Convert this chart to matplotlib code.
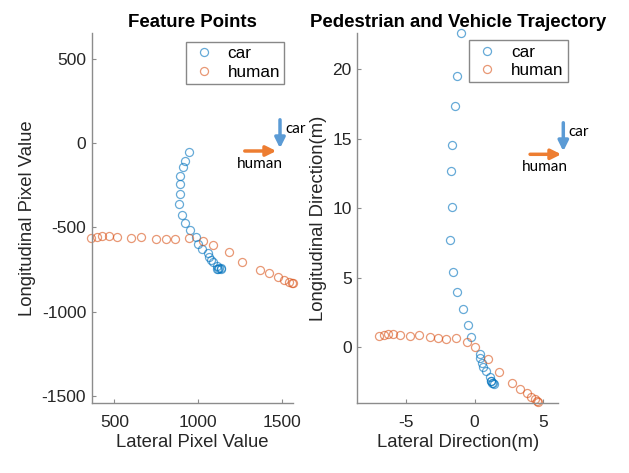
import numpy as np
import matplotlib
matplotlib.use('Agg')
import matplotlib.pyplot as plt

plt.rcParams['font.family'] = ['Liberation Sans', 'DejaVu Sans']
plt.rcParams['axes.unicode_minus'] = False

# feature points (pixel coordinates)
car_px_x = [945, 923, 909, 893, 891, 891, 885, 901, 923, 952, 985, 998, 1024, 1058, 1064,
            1074, 1089, 1113, 1123, 1133, 1111, 1135, 1118]
car_px_y = [-51, -103, -142, -197, -240, -301, -362, -429, -476, -517, -558, -596, -627, -651, -674,
            -694, -708, -730, -743, -749, -748, -742, -745]
human_px_x = [363, 395, 429, 465, 516, 597, 660, 747, 805, 862, 943, 1026, 1086, 1183, 1262,
              1367, 1423, 1476, 1510, 1542, 1558, 1565]
human_px_y = [-560, -557, -552, -548, -555, -560, -557, -567, -567, -567, -565, -581, -603, -648, -708,
              -754, -773, -793, -813, -823, -831, -833]

# trajectory (metres)
car_m_x = [-1.02, -1.26, -1.43, -1.67, -1.69, -1.67, -1.77, -1.55, -1.28, -0.87, -0.51, -0.29,
           0.41, 0.41, 0.51, 0.63, 0.85, 1.14, 1.16, 1.34, 1.41, 1.22, 1.30]
car_m_y = [22.59, 19.52, 17.36, 14.58, 12.68, 10.12, 7.72, 5.42, 3.98, 2.76, 1.60, 0.74,
           -0.50, -0.75, -1.15, -1.44, -1.73, -2.12, -2.40, -2.59, -2.64, -2.45, -2.55]
human_m_x = [-6.95, -6.62, -6.33, -5.96, -5.45, -4.68, -4.04, -3.24, -2.66, -2.11, -1.33, -0.55,
             0.03, 0.97, 1.75, 2.74, 3.30, 3.83, 4.12, 4.41, 4.56, 4.63]
human_m_y = [0.83, 0.91, 0.98, 0.98, 0.88, 0.83, 0.91, 0.72, 0.65, 0.62, 0.69, 0.38,
             0.02, -0.82, -1.80, -2.59, -2.98, -3.29, -3.58, -3.72, -3.84, -3.91]

car_color = '#0072BD'
human_color = '#D95319'
W, H = 629, 473

fig = plt.figure(figsize=(W / 100, H / 100), dpi=100)
ax1 = fig.add_axes([91.7 / W, 1 - 402.7 / H, 201.6 / W, 369.7 / H])
ax2 = fig.add_axes([357.3 / W, 1 - 402.7 / H, 201.0 / W, 369.7 / H])


def style(ax):
    for s in ['top', 'right']:
        ax.spines[s].set_visible(False)
    for s in ['left', 'bottom']:
        ax.spines[s].set_color('#8c8c8c')
        ax.spines[s].set_linewidth(1.0)
    ax.tick_params(direction='in', length=3, width=0.8, color='#8c8c8c',
                   labelsize=12.5, labelcolor='#262626', pad=4)
    ax.tick_params(axis='x', pad=9)


def draw(ax, cx, cy, hx, hy):
    ax.plot(cx, cy, 'o', mfc='none', mec=car_color, alpha=0.6, ms=5.8, mew=0.9,
            label='car', clip_on=False)
    ax.plot(hx, hy, 'o', mfc='none', mec=human_color, alpha=0.6, ms=5.8, mew=0.9,
            label='human', clip_on=False)


draw(ax1, car_px_x, car_px_y, human_px_x, human_px_y)
draw(ax2, car_m_x, car_m_y, human_m_x, human_m_y)

ax1.set_xlim(365, 1565)
ax1.set_ylim(-1542, 656)
ax1.set_xticks([500, 1000, 1500])
ax1.set_yticks([-1500, -1000, -500, 0, 500])
ax2.set_xlim(-8.55, 6.1)
ax2.set_ylim(-3.98, 22.6)
ax2.set_xticks([-5, 0, 5])
ax2.set_yticks([0, 5, 10, 15, 20])

for ax, t, xl, yl, anchor in [
        (ax1, 'Feature Points', 'Lateral Pixel Value', 'Longitudinal Pixel Value', (0.955, 0.976)),
        (ax2, 'Pedestrian and Vehicle Trajectory', 'Lateral Direction(m)', 'Longitudinal Direction(m)',
         (1.047, 0.980))]:
    style(ax)
    ax.set_title(t, fontsize=13.4, fontweight='bold', pad=4)
    ax.set_xlabel(xl, fontsize=13.3, color='#262626', labelpad=3)
    ax.set_ylabel(yl, fontsize=13.3, color='#262626', labelpad=4)
    leg = ax.legend(loc='upper right', bbox_to_anchor=anchor, borderaxespad=0, fancybox=False,
                    framealpha=1, edgecolor='#888888', fontsize=12.3, handletextpad=0.6,
                    borderpad=0.25, labelspacing=0.2, handlelength=1.6)
    leg.get_frame().set_linewidth(1.0)
    for h in leg.legend_handles:
        h.set_alpha(0.6)


# direction arrows (figure pixel positions)
def fx(px):
    return px / W


def fy(py):
    return 1 - py / H


for x0, yc in [(280, 117), (563.3, 120)]:
    fig.add_artist(matplotlib.patches.FancyArrowPatch(
        (fx(x0), fy(yc)), (fx(x0), fy(yc + 34)), transform=fig.transFigure,
        arrowstyle='-|>,head_length=6,head_width=3', color='#5B9BD5', lw=2.5, mutation_scale=1))
    fig.text(fx(x0 + 5.5), fy(yc + 12), 'car', fontsize=11, family='Lato', va='center', ha='left')
for x0, x1, yc in [(242, 279, 151), (527.3, 564, 154.3)]:
    fig.add_artist(matplotlib.patches.FancyArrowPatch(
        (fx(x0), fy(yc)), (fx(x1), fy(yc)), transform=fig.transFigure,
        arrowstyle='-|>,head_length=6,head_width=3', color='#ED7D31', lw=2.5, mutation_scale=1))
    fig.text(fx((x0 + x1) / 2 - 1), fy(yc + 13), 'human', fontsize=11, family='Lato',
             va='center', ha='center')

fig.savefig('out.png', dpi=100)
